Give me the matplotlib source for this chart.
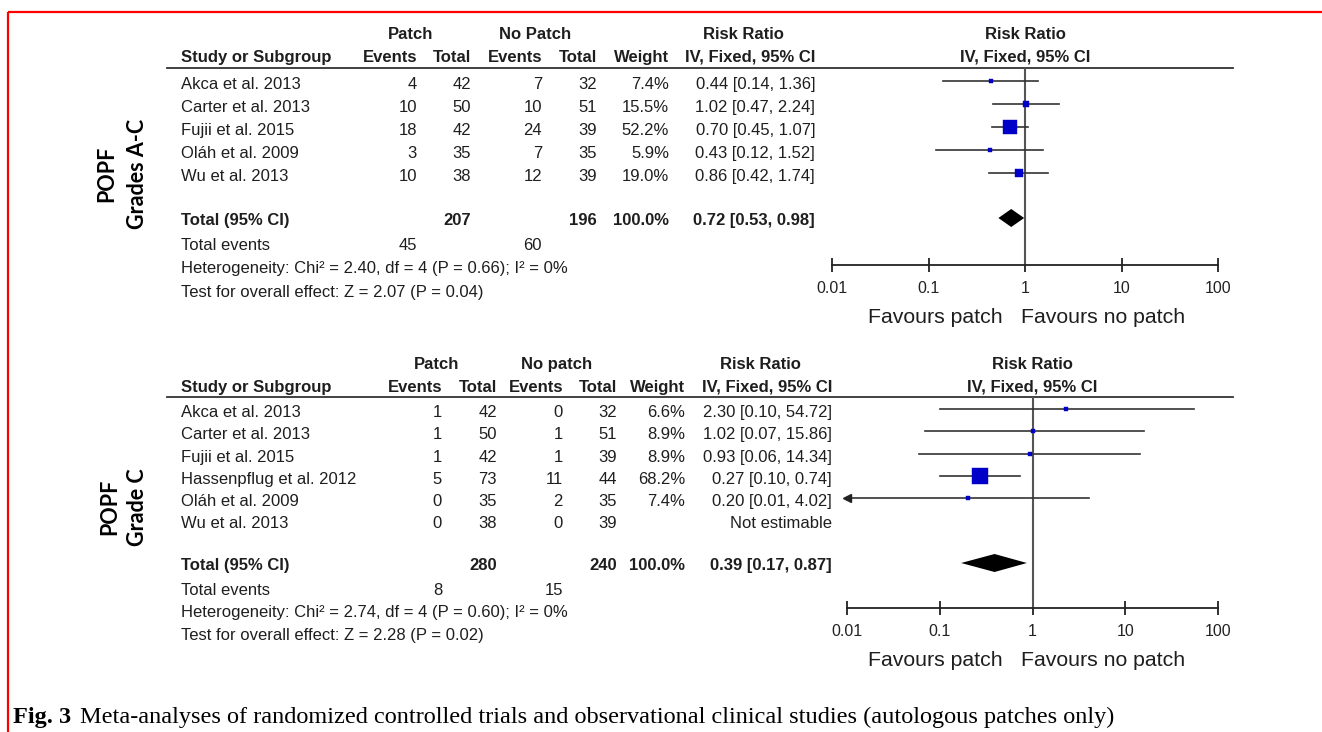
import matplotlib
matplotlib.use('Agg')
import matplotlib.pyplot as plt
import numpy as np

W, H = 1322, 732
plt.rcParams['font.family'] = ['Liberation Sans', 'DejaVu Sans']
TXT = '#1e1e1e'
FS = 12

# POPF grades A-C
studies_ac = ['Akca et al. 2013', 'Carter et al. 2013', 'Fujii et al. 2015',
              'Oláh et al. 2009', 'Wu et al. 2013']
patch_ev_ac = [4, 10, 18, 3, 10]
patch_n_ac = [42, 50, 42, 35, 38]
nopatch_ev_ac = [7, 10, 24, 7, 12]
nopatch_n_ac = [32, 51, 39, 35, 39]
weight_ac = [7.4, 15.5, 52.2, 5.9, 19.0]
rr_ac = [0.44, 1.02, 0.70, 0.43, 0.86]
lo_ac = [0.14, 0.47, 0.45, 0.12, 0.42]
hi_ac = [1.36, 2.24, 1.07, 1.52, 1.74]
pooled_ac = (0.72, 0.53, 0.98)
het_ac = 'Heterogeneity: Chi² = 2.40, df = 4 (P = 0.66); I² = 0%'
test_ac = 'Test for overall effect: Z = 2.07 (P = 0.04)'

# POPF grade C
studies_c = ['Akca et al. 2013', 'Carter et al. 2013', 'Fujii et al. 2015',
             'Hassenpflug et al. 2012', 'Oláh et al. 2009', 'Wu et al. 2013']
patch_ev_c = [1, 1, 1, 5, 0, 0]
patch_n_c = [42, 50, 42, 73, 35, 38]
nopatch_ev_c = [0, 1, 1, 11, 2, 0]
nopatch_n_c = [32, 51, 39, 44, 35, 39]
weight_c = [6.6, 8.9, 8.9, 68.2, 7.4, None]
rr_c = [2.30, 1.02, 0.93, 0.27, 0.20, None]
lo_c = [0.10, 0.07, 0.06, 0.10, 0.01, None]
hi_c = [54.72, 15.86, 14.34, 0.74, 4.02, None]
pooled_c = (0.39, 0.17, 0.87)
het_c = 'Heterogeneity: Chi² = 2.74, df = 4 (P = 0.60); I² = 0%'
test_c = 'Test for overall effect: Z = 2.28 (P = 0.02)'

scale_ticks = [0.01, 0.1, 1, 10, 100]
scale_labels = ['0.01', '0.1', '1', '10', '100']

fig = plt.figure(figsize=(W / 100, H / 100), dpi=100)
base = fig.add_axes([0, 0, 1, 1])
base.set_xlim(0, W)
base.set_ylim(H, 0)
base.axis('off')


def txt(x, y, s, ha='left', bold=False, size=FS, **kw):
    # y is the middle of the capitals; put the baseline half a cap-height lower
    yb = y + 0.358 * size * 100 / 72
    base.text(x, yb, s, ha=ha, va='baseline', fontsize=size,
              fontweight='bold' if bold else 'normal', color=TXT, **kw)


def side_px(w):
    # square side grows with study weight, with a minimum size
    return max(4.0, 2.2 * np.sqrt(w) - 2)


def draw_panel(lay, studies, pe, pn, ne, nn, wt, rr, lo, hi, pooled, het, test,
               nopatch_title, label):
    cols = lay['cols']
    # rotated outcome label
    base.text(lay['lab_x'][0], lay['lab_y'], 'POPF', rotation=90, ha='center', va='center',
              family='Lato', fontweight='bold', fontsize=15.5, color='black')
    base.text(lay['lab_x'][1], lay['lab_y'], label, rotation=90, ha='center', va='center',
              family='Lato', fontweight='bold', fontsize=15.5, color='black')

    # headers
    h1, h2 = lay['head']
    fc = (lay['x_lo'] + lay['x_hi']) / 2
    txt(lay['groups'][0], h1, 'Patch', 'center', True)
    txt(lay['groups'][1], h1, nopatch_title, 'center', True)
    txt(lay['groups'][2], h1, 'Risk Ratio', 'center', True)
    txt(fc, h1, 'Risk Ratio', 'center', True)
    txt(181, h2, 'Study or Subgroup', 'left', True)
    for x, s in zip(cols, ['Events', 'Total', 'Events', 'Total', 'Weight', 'IV, Fixed, 95% CI']):
        txt(x, h2, s, 'right', True)
    txt(fc, h2, 'IV, Fixed, 95% CI', 'center', True)
    base.plot([167, 1233], [lay['rule'], lay['rule']], color='#333333', lw=1.3)

    # study rows
    rows = [lay['row0'] + i * lay['dy'] for i in range(len(studies))]
    for i, y in enumerate(rows):
        txt(181, y, studies[i])
        for x, v in zip(cols[:4], [pe[i], pn[i], ne[i], nn[i]]):
            txt(x, y, str(v), 'right')
        if rr[i] is None:
            txt(cols[5], y, 'Not estimable', 'right')
        else:
            txt(cols[4], y, f'{wt[i]:.1f}%', 'right')
            txt(cols[5], y, f'{rr[i]:.2f} [{lo[i]:.2f}, {hi[i]:.2f}]', 'right')

    yt = lay['total']
    txt(181, yt, 'Total (95% CI)', bold=True)
    txt(cols[1], yt, str(sum(pn)), 'right', True)
    txt(cols[3], yt, str(sum(nn)), 'right', True)
    txt(cols[4], yt, '100.0%', 'right', True)
    txt(cols[5], yt, f'{pooled[0]:.2f} [{pooled[1]:.2f}, {pooled[2]:.2f}]', 'right', True)

    f0, fd = lay['foot0'], lay['foot_dy']
    txt(181, f0, 'Total events')
    txt(cols[0], f0, str(sum(pe)), 'right')
    txt(cols[2], f0, str(sum(ne)), 'right')
    txt(181, f0 + fd, het)
    txt(181, f0 + 2 * fd, test)

    # forest plot
    ax = fig.add_axes([lay['x_lo'] / W, 1 - lay['axis_y'] / H,
                       (lay['x_hi'] - lay['x_lo']) / W, (lay['axis_y'] - lay['rule']) / H])
    ax.set_xscale('log')
    ax.set_xlim(0.01, 100)
    ax.set_ylim(lay['axis_y'], lay['rule'])
    ax.patch.set_alpha(0)
    for s in ['top', 'left', 'right']:
        ax.spines[s].set_visible(False)
    ax.spines['bottom'].set_color('#222222')
    ax.spines['bottom'].set_linewidth(1.3)
    ax.set_yticks([])
    ax.set_xticks(scale_ticks)
    ax.set_xticklabels(scale_labels)
    ax.xaxis.set_minor_locator(matplotlib.ticker.NullLocator())
    ax.tick_params(axis='x', direction='inout', length=9.5, width=1.3, pad=7,
                   labelsize=11.5, colors='#222222')
    ax.axvline(1, color='#555555', lw=1.5)

    for i, y in enumerate(rows):
        if rr[i] is None:
            continue
        ym = y - 2
        ax.plot([max(lo[i], 0.01), hi[i]], [ym, ym], color='#333333', lw=1.2)
        if lo[i] <= 0.01:
            ax.plot(0.01, ym, marker='<', ms=6, color='#222222', clip_on=False)
        s = side_px(wt[i]) * 0.72
        ax.plot(rr[i], ym, marker='s', ms=s, color='#0000c8', mec='#0000c8', mew=0.3)

    yd = yt - 1
    ax.fill([pooled[1], pooled[0], pooled[2], pooled[0]], [yd, yd - 9, yd, yd + 9],
            color='black', lw=0)

    fy = lay['fav_y']
    txt(1003, fy, 'Favours patch', 'right', size=15.3)
    txt(1021, fy, 'Favours no patch', 'left', size=15.3)


layout_ac = dict(head=(33, 56), rule=68, row0=83, dy=23, total=219, foot0=244, foot_dy=23.5,
                 cols=[417, 471, 542, 597, 669, 815], groups=[411, 535, 743],
                 axis_y=265, x_lo=832, x_hi=1218, fav_y=315, lab_x=(107, 137), lab_y=174)
layout_c = dict(head=(363, 386), rule=397, row0=411, dy=22.3, total=564, foot0=589, foot_dy=22.5,
                cols=[442, 497, 563, 617, 685, 832], groups=[437, 557, 760],
                axis_y=608, x_lo=847, x_hi=1218, fav_y=658, lab_x=(110, 138), lab_y=507)

draw_panel(layout_ac, studies_ac, patch_ev_ac, patch_n_ac, nopatch_ev_ac, nopatch_n_ac,
           weight_ac, rr_ac, lo_ac, hi_ac, pooled_ac, het_ac, test_ac, 'No Patch', 'Grades A-C')
draw_panel(layout_c, studies_c, patch_ev_c, patch_n_c, nopatch_ev_c, nopatch_n_c,
           weight_c, rr_c, lo_c, hi_c, pooled_c, het_c, test_c, 'No patch', 'Grade C')

# frame and caption
base.plot([8, W], [12, 12], color='#ff0000', lw=1.6, solid_capstyle='butt')
base.plot([8, 8], [12, H], color='#ff0000', lw=1.6, solid_capstyle='butt')
base.text(13, 723, 'Fig. 3', family='Liberation Serif', fontweight='bold', fontsize=17.5,
          va='baseline', color='black')
base.text(80, 723, 'Meta-analyses of randomized controlled trials and observational clinical '
          'studies (autologous patches only)', family='Liberation Serif', fontsize=17.5,
          va='baseline', color='black')

fig.savefig('out.png', dpi=100)
